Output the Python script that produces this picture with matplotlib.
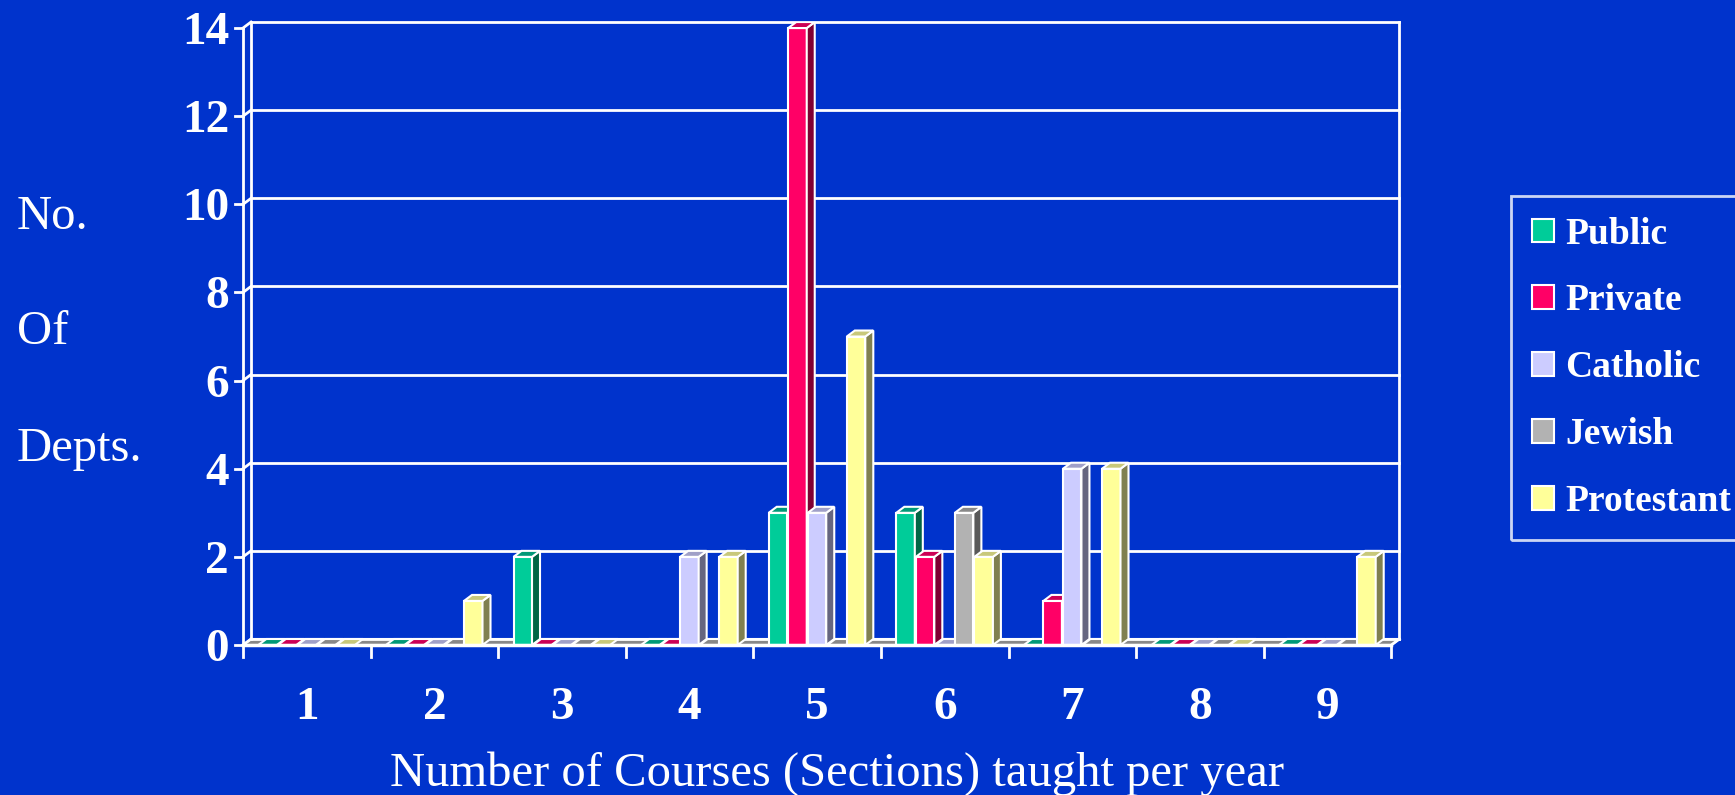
import numpy as np
import matplotlib.pyplot as plt
from matplotlib.patches import Polygon, Patch

plt.rcParams['font.family'] = ['Liberation Serif', 'DejaVu Serif']

# data
courses = [1, 2, 3, 4, 5, 6, 7, 8, 9]
series = ['Public', 'Private', 'Catholic', 'Jewish', 'Protestant']
public = [0, 0, 2, 0, 3, 3, 0, 0, 0]
private = [0, 0, 0, 0, 14, 2, 1, 0, 0]
catholic = [0, 0, 0, 2, 3, 0, 4, 0, 0]
jewish = [0, 0, 0, 0, 0, 3, 0, 0, 0]
protestant = [0, 1, 0, 2, 7, 2, 4, 0, 2]
yticks = [0, 2, 4, 6, 8, 10, 12, 14]

values = [public, private, catholic, jewish, protestant]
front_c = ['#00CC99', '#FF0066', '#CCCCFF', '#B2B2B2', '#FFFF99']
side_c = ['#006644', '#800033', '#666680', '#595959', '#808050']
top_c = ['#009977', '#CC0055', '#A0A0C8', '#888888', '#C8C87A']
bg = '#0033CC'

W, H = 1735, 795
fig = plt.figure(figsize=(W / 100, H / 100), dpi=100, facecolor=bg)
# axes in pixels: front x=0.5 at 243px, y=0 at 645px
left, right, bot, top = 243, 1399, 645, 22
ax = fig.add_axes([left / W, (H - bot) / H, (right - left) / W, (bot - top) / H])
ax.set_facecolor('none')
pxu = 127.6
ax.set_xlim(0.5, 0.5 + (right - left) / pxu)
ax.set_ylim(0, 14.137)
for s in ax.spines.values():
    s.set_visible(False)

DX = 8 / pxu
DY = 6 / 44.07
lw = 2

# back wall + grid
for k in yticks:
    ax.plot([0.5 + DX, 9.5 + DX], [k + DY, k + DY], color='white', lw=lw, clip_on=False)
    ax.plot([0.5, 0.5 + DX], [k, k + DY], color='white', lw=lw, clip_on=False)
    ax.plot([0.5 - 0.065, 0.5], [k, k], color='white', lw=lw, clip_on=False)
ax.plot([0.5 + DX, 0.5 + DX], [DY, 14 + DY], color='white', lw=lw, clip_on=False)
ax.plot([9.5 + DX, 9.5 + DX], [DY, 14 + DY], color='white', lw=lw, clip_on=False)
ax.plot([0.5, 0.5], [0, 14], color='white', lw=lw, clip_on=False)

# floor
ax.add_patch(Polygon([(0.5, 0), (9.5, 0), (9.5 + DX, DY), (0.5 + DX, DY)],
                     closed=True, facecolor='#888888', edgecolor='white', lw=1.5, clip_on=False))

# bars
bw = 0.145
pitch = 0.153
for g, c in enumerate(courses):
    for j in range(len(series)):
        v = values[j][g]
        x0 = c - 0.5 + 0.12 + j * pitch
        if v > 0:
            ax.bar(x0, v, width=bw, align='edge', color=front_c[j], edgecolor='white', lw=1.5, zorder=3)
            ax.add_patch(Polygon([(x0 + bw, 0), (x0 + bw + DX, DY), (x0 + bw + DX, v + DY), (x0 + bw, v)],
                                 closed=True, facecolor=side_c[j], edgecolor='white', lw=1.5, zorder=3))
        ax.add_patch(Polygon([(x0, v), (x0 + bw, v), (x0 + bw + DX, v + DY), (x0 + DX, v + DY)],
                             closed=True, facecolor=top_c[j], edgecolor='white', lw=1.5, zorder=3))

# front baseline and x ticks
ax.plot([0.5, 9.5], [0, 0], color='white', lw=2.5, zorder=4, clip_on=False)
ax.plot([9.5, 9.5 + DX], [0, DY], color='white', lw=lw, zorder=4, clip_on=False)
for b in np.arange(0.5, 10, 1):
    ax.plot([b, b], [0, -0.27], color='white', lw=lw, clip_on=False)

ax.set_xticks(courses)
ax.set_xticklabels([str(c) for c in courses])
ax.set_yticks(yticks)
ax.set_yticklabels([str(k) for k in yticks])
ax.tick_params(axis='x', length=0, pad=30, colors='white', labelsize=34)
ax.tick_params(axis='y', length=0, pad=10, colors='white', labelsize=34)
for t in ax.get_xticklabels() + ax.get_yticklabels():
    t.set_fontweight('bold')

# axis labels
for txt, yb in [('No.', 229), ('Of', 344), ('Depts.', 461)]:
    fig.text(17 / W, (H - yb) / H, txt, color='white', fontsize=35, va='baseline', ha='left')
fig.text(837 / W, (H - 786) / H, 'Number of Courses (Sections) taught per year',
         color='white', fontsize=35, va='baseline', ha='center')

# legend
handles = [Patch(facecolor=front_c[j], edgecolor='white', lw=1.5) for j in range(len(series))]
leg = fig.legend(handles, series, loc='upper left', bbox_to_anchor=(1511 / W, (H - 196) / H),
                 borderaxespad=0, frameon=True, fancybox=False,
                 handlelength=0.6, handleheight=0.6, handletextpad=0.3, labelspacing=0.85,
                 borderpad=0.55, prop={'weight': 'bold', 'size': 27})
leg.get_frame().set_facecolor('none')
leg.get_frame().set_edgecolor('white')
leg.get_frame().set_linewidth(2)
for t in leg.get_texts():
    t.set_color('white')

fig.savefig('out.png', dpi=100, facecolor=bg)
